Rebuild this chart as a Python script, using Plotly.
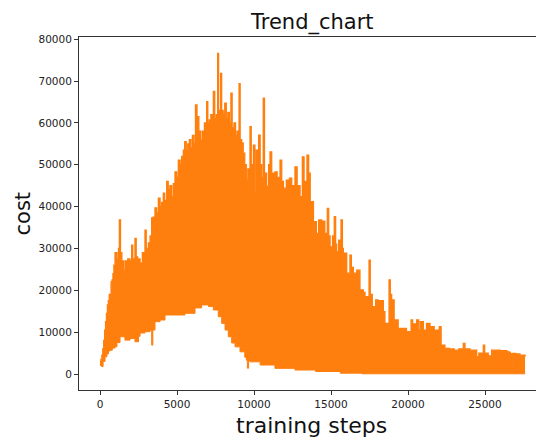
import plotly.graph_objects as go

# Upper envelope of the cost trace (training step, cost)
high_steps = [0, 60, 120, 180, 240, 300, 360, 420, 480, 540, 600, 660, 720, 780, 840, 900, 975, 1100, 1200,
              1255, 1330, 1420, 1515, 1620, 1800, 1950,
              2055, 2130, 2270, 2350, 2450, 2600, 2750, 2920, 3000, 3140, 3250, 3355, 3450, 3570, 3680,
              3790, 3900, 4000, 4110, 4200, 4330, 4430, 4540, 4650, 4760, 4870, 4980, 5085, 5200, 5300,
              5410, 5500, 5600, 5700, 5800, 5900, 6000, 6100, 6200, 6300, 6420, 6540, 6650, 6780, 6925,
              7000, 7100, 7200, 7360, 7450, 7550, 7640, 7700, 7830, 7900, 8000, 8100, 8200, 8300, 8400,
              8500, 8580, 8700, 8800, 8900, 9030, 9100, 9200, 9300, 9400, 9500, 9600, 9740, 9820, 9960,
              10060, 10150, 10300, 10400, 10500, 10600, 10680, 10820, 10950, 11040, 11150, 11360, 11500,
              11690, 11800, 11910, 12100, 12300, 12450, 12660, 12800, 12990, 13140, 13250, 13440, 13550,
              13650, 13860, 14050, 14200, 14390, 14600, 14760, 14850, 14940, 15100, 15210, 15300, 15370,
              15500, 15650, 15740, 15800, 16020, 16230, 16320, 16450, 16670, 16880, 17100, 17210, 17470,
              17550, 17680, 17900, 18050, 18400, 18500, 18770, 18850, 18940, 19100, 19360, 19590, 19900,
              20200, 20300, 20560, 20700, 20800, 21000, 21200, 21430, 21700, 22030, 22150, 22400, 22700,
              23000, 23300, 23590, 23700, 24030, 24460, 24600, 24890, 24980, 25210, 25430, 25700, 25980,
              26400, 26500, 26640, 26700, 26760, 27000, 27270, 27600]
high_cost = [3000, 3500, 4500, 6000, 8000, 10500, 12500, 14500, 16500, 17500, 19000, 18500, 22000, 22500,
             24000, 26000, 29000, 27500, 30000, 36800, 29000, 27000, 24800,
             27000, 27500, 27000, 30800, 27500, 32400, 28000, 27500, 26500, 29000, 34400, 30000, 31300,
             33000, 37300, 37500, 39700, 38500, 42000, 40000, 41000, 43200, 41500, 46000, 44000, 45000,
             42400, 45500, 48300, 47000, 51100, 50000, 52000, 53500, 55500, 53500, 55000, 56000, 54000,
             57000, 55000, 64300, 61500, 58000, 55900, 58000, 60000, 65100, 60000, 60700, 62000, 67500,
             61000, 62000, 76600, 63000, 71800, 63000, 62000, 64700, 61000, 62500, 60000, 67100, 58800,
             60000, 57000, 58000, 69400, 56000, 55200, 52800, 50000, 46300, 49000, 59100, 50000, 54700,
             43200, 53500, 57100, 50000, 47000, 65900, 48000, 44800, 50000, 53100, 48000, 48300, 47000,
             51100, 46000, 44400, 46300, 46800, 45000, 49500, 45000, 42400, 51900, 46000, 52300, 48000,
             41200, 36400, 33600, 36800, 36500, 33600, 39600, 33000, 30400, 33000, 37600, 31000, 29200,
             32000, 36800, 30000, 28900, 24100, 28400, 25500, 24100, 24800, 20100, 19500, 18500, 27200,
             19000, 16100, 17700, 17500, 14900, 12100, 22500, 19000, 17700, 12900, 10900, 10900, 10100,
             12900, 12000, 12900, 10500, 12500, 10500, 12100, 11300, 10500, 11300, 6900, 6100, 6000,
             5700, 6000, 7300, 6000, 5700, 4100, 5000, 6900, 5000, 4300, 5700, 5700, 5600, 5400, 5200,
             4800, 950, 4900, 4800, 4500, 4100]

# Lower envelope of the cost trace
low_steps = [0, 100, 200, 325, 450, 550, 650, 800, 975, 1100, 1300, 1620, 1950, 2270, 2500, 2600, 2920,
             3250, 3355, 3430, 3570, 3900, 4220, 4870, 5520, 6170, 6600, 6820, 7050, 7360, 7680, 7900,
             8120, 8330, 8550, 8770, 9090, 9400, 9500, 9570, 9650, 9750, 10400, 11360, 12660, 14000,
             15600, 17000, 27600]
low_cost = [2000, 1800, 3000, 4100, 4800, 5500, 5700, 6200, 6500, 7500, 8900, 8100, 8500, 7700, 9000, 9800,
            10100, 10500, 6900, 10500, 12500, 12900, 14100, 14100, 14500, 15800, 16500, 16500, 16100,
            15300, 13700, 12100, 10500, 8900, 7400, 6500, 5300, 4000, 3300, 1400, 3100, 2900, 2150, 1350,
            950, 600, 200, 50, 0]

x_ticks = [0, 5000, 10000, 15000, 20000, 25000]
y_ticks = [0, 10000, 20000, 30000, 40000, 50000, 60000, 70000, 80000]

ORANGE = "#ff7f0e"
FONT = "DejaVu Sans"
AXC = "#333333"

fig = go.Figure()
fig.add_trace(go.Scatter(x=low_steps, y=low_cost, mode="lines", line=dict(width=1, color=ORANGE, shape="hv"),
                         showlegend=False, hoverinfo="skip"))
fig.add_trace(go.Scatter(x=high_steps, y=high_cost, mode="lines", fill="tonexty", fillcolor=ORANGE,
                         line=dict(width=1.3, color=ORANGE, shape="hv"), showlegend=False, hoverinfo="skip"))

# the page body has an 8px margin, so the figure is sized to end at the window edge
fig.update_layout(
    width=536, height=431,
    margin=dict(l=71, r=0, t=29, b=49),
    paper_bgcolor="white", plot_bgcolor="white",
    font=dict(family=FONT, color="#222222"),
    xaxis=dict(range=[-1364, 28831], tickvals=x_ticks, ticktext=[str(v) for v in x_ticks],
               showgrid=False, zeroline=False, showline=True, linecolor=AXC, linewidth=1, mirror=True,
               ticks="outside", ticklen=4, tickcolor=AXC, tickfont=dict(size=10.5, family=FONT, color="#222222")),
    yaxis=dict(range=[-3823, 80526], tickvals=y_ticks, ticktext=[str(v) for v in y_ticks],
               showgrid=False, zeroline=False, showline=True, linecolor=AXC, linewidth=1,
               ticks="outside", ticklen=4, tickcolor=AXC, tickfont=dict(size=10.5, family=FONT, color="#222222")),
    annotations=[
        dict(text="Trend_chart", xref="paper", yref="paper", x=0.5, y=1, yshift=15, showarrow=False,
             font=dict(size=21, family=FONT, color="#111111"), xanchor="center", yanchor="middle"),
        dict(text="training steps", xref="paper", yref="paper", x=0.5, y=0, yshift=-35, showarrow=False,
             font=dict(size=22, family=FONT, color="#111111"), xanchor="center", yanchor="middle"),
        dict(text="cost", xref="paper", yref="paper", x=0, y=0.5, xshift=-57, textangle=-90, showarrow=False,
             font=dict(size=21, family=FONT, color="#111111"), borderpad=0,
             xanchor="center", yanchor="middle"),
    ],
)

fig.write_html("out.html")
